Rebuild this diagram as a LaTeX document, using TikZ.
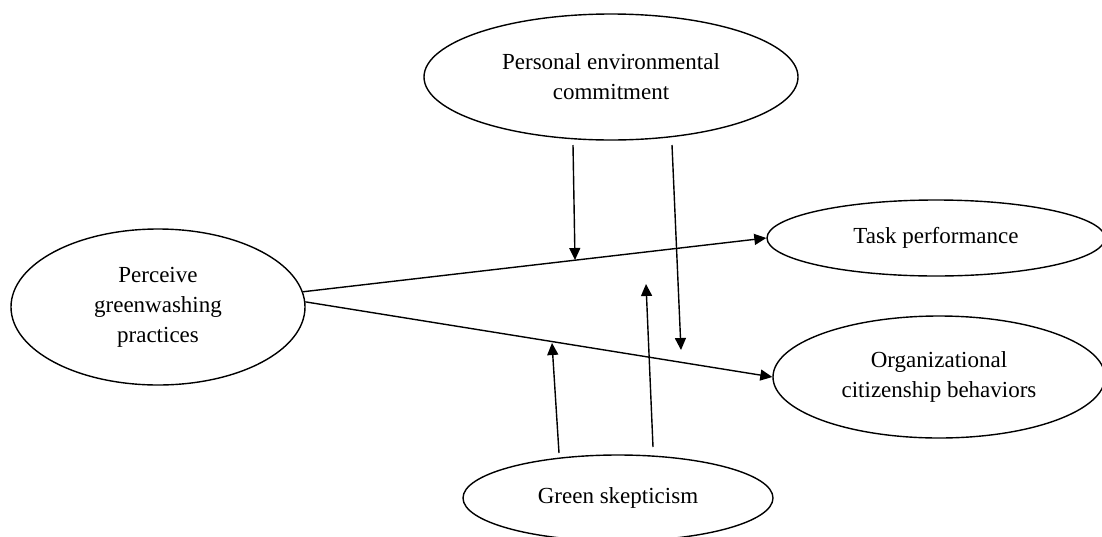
\documentclass[tikz,border=0pt]{standalone}
\usepackage{fontspec}
\setmainfont{Liberation Serif}
\usetikzlibrary{positioning, arrows.meta, shapes.geometric}
\tikzset{
  construct/.style = {draw, ellipse, line width=0.7pt, inner sep=0pt,
                      align=center, font=\fontsize{11.5pt}{15pt}\selectfont},
  linkarrow/.style = {->, line width=0.7pt},
  >={Triangle[length=6pt, width=5.5pt]}
}

\begin{document}
\begin{tikzpicture}[x=0.5pt, y=-0.5pt]
  \useasboundingbox (0,0) rectangle (1102,536);

  % Independent variable
  \node[construct, minimum width=147pt, minimum height=78pt]
    (pgp) at (158,307) {Perceive\\greenwashing\\practices};

  % Outcomes
  \node[construct, minimum width=169pt, minimum height=38pt]
    (task) at (936,238) {Task performance};
  \node[construct, minimum width=166pt, minimum height=61pt]
    (ocb) at (939,377) {Organizational\\citizenship behaviors};

  % Moderators
  \node[construct, minimum width=187pt, minimum height=63pt]
    (pec) at (611,77) {Personal environmental\\commitment};
  \node[construct, minimum width=155pt, minimum height=43pt]
    (gs) at (618,498) {Green skepticism};

  % Main paths
  \draw[linkarrow] (pgp.6) -- (task.west);
  \draw[linkarrow] (pgp.2) -- (ocb.west);

  % Moderating paths
  \coordinate (pec-l) at (573,145);
  \coordinate (pec-r) at (672,145);
  \coordinate (gs-l) at (559,453);
  \coordinate (gs-r) at (653,447);
  \coordinate (task-mod1) at (575,260);
  \coordinate (task-mod2) at (646,284);
  \coordinate (ocb-mod1) at (681,350);
  \coordinate (ocb-mod2) at (552,343);
  \draw[linkarrow] (pec-l) -- (task-mod1);
  \draw[linkarrow] (pec-r) -- (ocb-mod1);
  \draw[linkarrow] (gs-l) -- (ocb-mod2);
  \draw[linkarrow] (gs-r) -- (task-mod2);
\end{tikzpicture}
\end{document}
